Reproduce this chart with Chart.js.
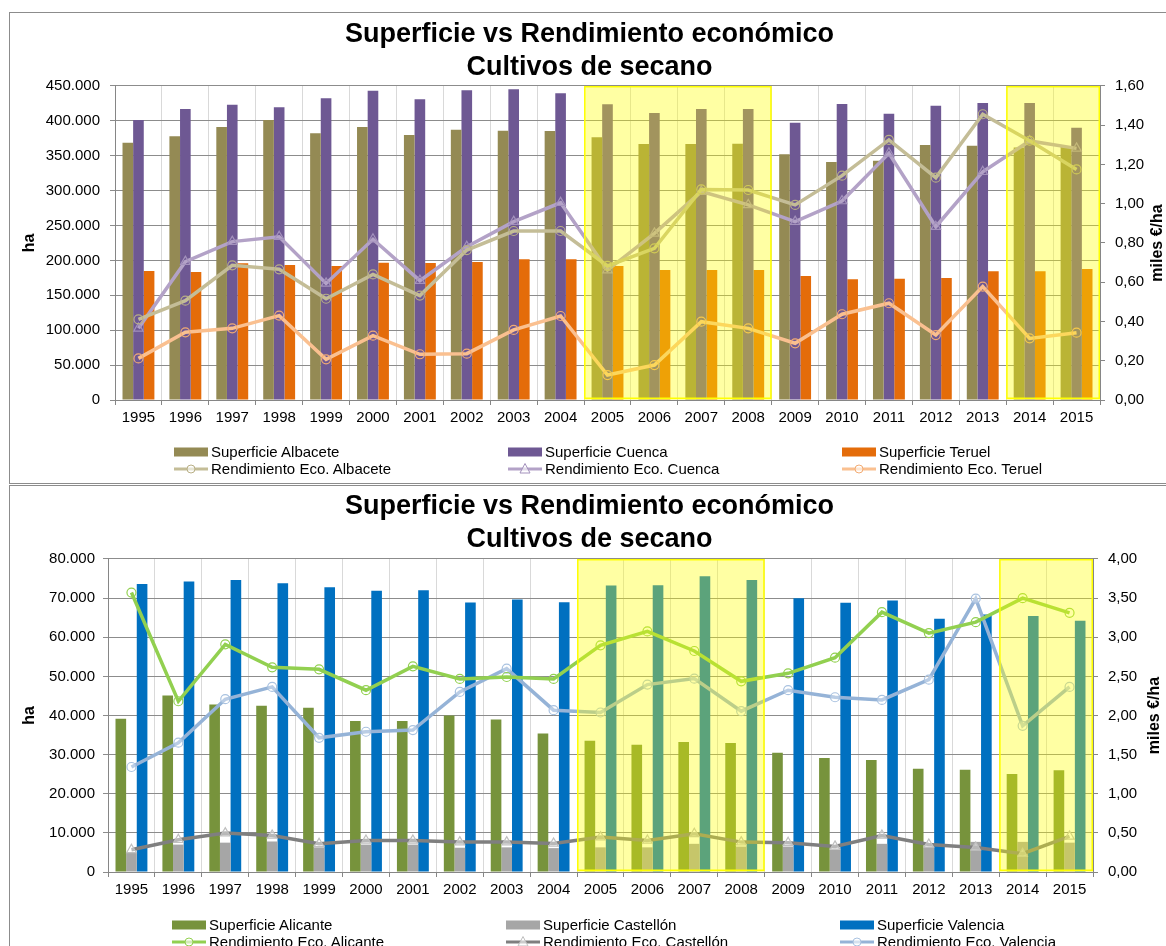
<!DOCTYPE html>
<html lang="es">
<head>
<meta charset="utf-8">
<title>Superficie vs Rendimiento económico</title>
<script src="https://cdn.jsdelivr.net/npm/chart.js@4.4.1/dist/chart.umd.min.js"></script>
<style>
  html, body { margin: 0; padding: 0; background: #fff; overflow: hidden; }
  body { width: 1166px; height: 946px; position: relative; font-family: 'Liberation Sans', Arial, sans-serif; }
  .marco { position: absolute; left: 9px; width: 1200px; border: 1px solid #8c8c8c; box-sizing: border-box; }
  canvas { position: absolute; left: 9px; }
  .leyenda { position: absolute; display: grid; grid-template-columns: 334px 334px 334px; font-size: 15px; line-height: 17px; color: #000; }
  .item { display: flex; align-items: center; white-space: nowrap; }
  .item svg { margin-right: 3px; flex: none; }
</style>
</head>
<body>
<div class="marco" style="top:12px;height:472px"></div>
<canvas id="graf1" width="1161" height="471" style="top:12px"></canvas>
<div class="leyenda" id="ley1" style="left:174px;top:443px"></div>

<div class="marco" style="top:485px;height:500px"></div>
<canvas id="graf2" width="1161" height="461" style="top:485px"></canvas>
<div class="leyenda" id="ley2" style="left:172px;top:916px"></div>

<script>
// Datos
const anios = ['1995', '1996', '1997', '1998', '1999', '2000', '2001', '2002', '2003', '2004', '2005',
  '2006', '2007', '2008', '2009', '2010', '2011', '2012', '2013', '2014', '2015'];

const titulo = ['Superficie vs Rendimiento económico', 'Cultivos de secano'];

// Albacete, Cuenca, Teruel (ha y miles €/ha)
const supAlbacete = [368800, 377900, 391200, 401300, 382200, 391200, 379800, 387400, 386000, 385500, 376400,
  366900, 366900, 367300, 352100, 341100, 343000, 365400, 364500, 362000, 364000];
const supCuenca = [401300, 417000, 423200, 419400, 432300, 443300, 430900, 443800, 445200, 439500, 423700,
  411300, 417000, 417000, 397400, 424200, 410300, 421800, 425600, 425600, 390300];
const supTeruel = [184900, 183400, 195900, 193500, 192000, 196800, 196300, 197800, 201600, 201600, 192000,
  186300, 186300, 186300, 177700, 172900, 173900, 174800, 184400, 184400, 187700];
const rendAlbacete = [0.411, 0.506, 0.686, 0.666, 0.516, 0.640, 0.532, 0.764, 0.861, 0.861, 0.683,
  0.773, 1.073, 1.070, 0.994, 1.143, 1.325, 1.133, 1.456, 1.321, 1.175];
const rendCuenca = [0.365, 0.705, 0.807, 0.832, 0.594, 0.819, 0.608, 0.781, 0.909, 1.005, 0.662,
  0.849, 1.062, 0.994, 0.909, 1.014, 1.257, 0.883, 1.163, 1.320, 1.282];
const rendTeruel = [0.212, 0.345, 0.365, 0.430, 0.207, 0.328, 0.233, 0.236, 0.357, 0.428, 0.127,
  0.178, 0.399, 0.365, 0.289, 0.437, 0.493, 0.331, 0.578, 0.314, 0.343];

// Alicante, Castellón, Valencia
const supAlicante = [39150, 45100, 42800, 42470, 41950, 38560, 38560, 40000, 38980, 35420, 33550,
  32530, 33210, 32950, 30490, 29130, 28620, 26410, 26160, 25050, 25990];
const supCastellon = [5000, 7000, 7500, 7800, 6300, 7000, 7000, 6200, 6300, 6100, 6300,
  6300, 7200, 6500, 6500, 5700, 7200, 6400, 7700, 7700, 7500];
const supValencia = [73630, 74230, 74650, 73800, 72780, 71850, 72020, 68880, 69640, 68960, 73210,
  73300, 75590, 74650, 69980, 68790, 69390, 64720, 65820, 65400, 64210];
const rendAlicante = [3.571, 2.182, 2.909, 2.616, 2.590, 2.323, 2.628, 2.467, 2.492, 2.467, 2.896,
  3.074, 2.824, 2.437, 2.539, 2.739, 3.320, 3.053, 3.193, 3.499, 3.312];
const rendCastellon = [0.284, 0.412, 0.497, 0.467, 0.361, 0.403, 0.403, 0.382, 0.382, 0.365, 0.446,
  0.403, 0.488, 0.382, 0.374, 0.327, 0.467, 0.352, 0.314, 0.234, 0.454];
const rendValencia = [1.342, 1.652, 2.208, 2.365, 1.715, 1.792, 1.813, 2.301, 2.599, 2.068, 2.038,
  2.395, 2.471, 2.055, 2.323, 2.233, 2.199, 2.458, 3.494, 1.868, 2.365];

// Escalas: [max, paso]
const ejeHaNorte = [450000, 50000];
const ejeEurNorte = [1.6, 0.2];
const ejeHaEste = [80000, 10000];
const ejeEurEste = [4, 0.5];

// Periodos resaltados en amarillo
const zonasDestacadas = [['2005', '2008'], ['2014', '2015']];

Chart.defaults.font.family = "'Liberation Sans', Arial, sans-serif";
Chart.defaults.font.size = 15;
Chart.defaults.color = '#000';

function formatoMiles(v) {
  return Math.round(v).toString().replace(/\B(?=(\d{3})+(?!\d))/g, '.');
}
function formatoDecimal(v) {
  return Number(v).toFixed(2).replace('.', ',');
}

function serieBarra(label, data, color) {
  return { type: 'bar', label: label, data: data, backgroundColor: color, yAxisID: 'y', order: 2,
    categoryPercentage: 0.68, barPercentage: 1.0 };
}
function serieLinea(label, data, color, marcador, borde, relleno) {
  return { type: 'line', label: label, data: data, borderColor: color, backgroundColor: color,
    borderWidth: 3.5, yAxisID: 'y1', order: 1, tension: 0,
    pointStyle: marcador, pointRadius: marcador === 'triangle' ? 5.5 : 4.5,
    pointBorderColor: borde, pointBackgroundColor: relleno, pointBorderWidth: 1.2 };
}

// Rectángulos amarillos semitransparentes sobre los periodos destacados
const zonasPlugin = {
  id: 'zonas',
  afterDatasetsDraw(chart, args, opts) {
    const { ctx, chartArea } = chart;
    const x = chart.scales.x;
    const paso = x.getPixelForValue(1) - x.getPixelForValue(0);
    ctx.save();
    opts.rangos.forEach(r => {
      const x0 = x.getPixelForValue(anios.indexOf(r[0])) - paso / 2;
      const x1 = x.getPixelForValue(anios.indexOf(r[1])) + paso / 2;
      ctx.fillStyle = 'rgba(255,255,0,0.36)';
      ctx.fillRect(x0, chartArea.top, x1 - x0, chartArea.bottom - chartArea.top);
      ctx.strokeStyle = '#FFFF00';
      ctx.lineWidth = 1.5;
      ctx.strokeRect(x0 + 0.75, chartArea.top + 0.75, x1 - x0 - 1.5, chartArea.bottom - chartArea.top - 2.5);
    });
    ctx.restore();
  }
};

// Título del eje derecho girado como en Excel (de abajo hacia arriba)
const tituloDerechoPlugin = {
  id: 'tituloDerecho',
  afterDraw(chart, args, opts) {
    const { ctx, chartArea } = chart;
    ctx.save();
    ctx.translate(opts.x, (chartArea.top + chartArea.bottom) / 2);
    ctx.rotate(-Math.PI / 2);
    ctx.font = "bold 16px 'Liberation Sans', Arial, sans-serif";
    ctx.fillStyle = '#000';
    ctx.textAlign = 'center';
    ctx.textBaseline = 'middle';
    ctx.fillText(opts.texto, 0, 0);
    ctx.restore();
  }
};

function crearGrafica(id, series, ejeIzq, ejeDer, m) {
  return new Chart(document.getElementById(id), {
    type: 'bar',
    data: { labels: anios, datasets: series },
    options: {
      responsive: false,
      animation: false,
      layout: { padding: 0 },
      plugins: {
        legend: { display: false },
        tooltip: { enabled: false },
        title: {
          display: true, text: titulo, color: '#000',
          font: { size: 27, weight: 'bold', lineHeight: 1.22 },
          padding: m.tituloPad
        },
        zonas: { rangos: zonasDestacadas },
        tituloDerecho: { texto: 'miles €/ha', x: m.tituloDerX }
      },
      scales: {
        x: {
          grid: { color: '#D9D9D9', tickColor: '#868686', tickLength: 5, offset: true },
          border: { color: '#868686' },
          ticks: { autoSkip: false, maxRotation: 0, padding: 4 },
          afterFit: s => { s.height = m.altoX; }
        },
        y: {
          position: 'left', min: 0, max: ejeIzq[0],
          ticks: { stepSize: ejeIzq[1], padding: m.padIzq, callback: v => formatoMiles(v) },
          grid: { color: '#8C8C8C', tickLength: 5 },
          border: { color: '#868686' },
          title: { display: true, text: 'ha', font: { size: 16, weight: 'bold' }, padding: { top: 11.4, bottom: 0 } },
          afterFit: s => { s.width = m.anchoIzq; }
        },
        y1: {
          position: 'right', min: 0, max: ejeDer[0],
          ticks: { stepSize: ejeDer[1], padding: 10, callback: v => formatoDecimal(v) },
          grid: { drawOnChartArea: false, tickLength: 5, tickColor: '#868686' },
          border: { color: '#868686' },
          afterFit: s => { s.width = m.anchoDer; }
        }
      }
    },
    plugins: [zonasPlugin, tituloDerechoPlugin]
  });
}

function muestra(ds) {
  const c = ds.type === 'bar' ? ds.backgroundColor : ds.borderColor;
  if (ds.type === 'bar') {
    return '<svg width="34" height="12"><rect x="0" y="1.5" width="34" height="9" fill="' + c + '"/></svg>';
  }
  let marca;
  if (ds.pointStyle === 'triangle') {
    marca = '<polygon points="17,0.5 22,10 12,10" fill="#fff" fill-opacity="0.6" stroke="' + ds.pointBorderColor + '" stroke-width="1"/>';
  } else {
    marca = '<circle cx="17" cy="6" r="4" fill="#fff" fill-opacity="0.6" stroke="' + ds.pointBorderColor + '" stroke-width="1"/>';
  }
  return '<svg width="34" height="12"><line x1="0" y1="6" x2="34" y2="6" stroke="' + c + '" stroke-width="3"/>' + marca + '</svg>';
}

function crearLeyenda(chart, id) {
  document.getElementById(id).innerHTML = chart.data.datasets
    .map(ds => '<div class="item">' + muestra(ds) + '<span>' + ds.label + '</span></div>')
    .join('');
}

const g1 = crearGrafica('graf1', [
  serieBarra('Superficie Albacete', supAlbacete, '#948A54'),
  serieBarra('Superficie Cuenca', supCuenca, '#6E5893'),
  serieBarra('Superficie Teruel', supTeruel, '#E46C0A'),
  serieLinea('Rendimiento Eco. Albacete', rendAlbacete, '#C4BD97', 'circle', '#B8AF85', 'rgba(255,255,255,0)'),
  serieLinea('Rendimiento Eco. Cuenca', rendCuenca, '#B3A2C7', 'triangle', '#A391BC', 'rgba(255,255,255,0)'),
  serieLinea('Rendimiento Eco. Teruel', rendTeruel, '#FAC090', 'circle', '#F2AB73', 'rgba(255,255,255,0)')
], ejeHaNorte, ejeEurNorte, {
  tituloPad: { top: 6.5, bottom: 1.6 }, altoX: 83, anchoIzq: 106, anchoDer: 70, padIzq: 10, tituloDerX: 1149
});
crearLeyenda(g1, 'ley1');

const g2 = crearGrafica('graf2', [
  serieBarra('Superficie Alicante', supAlicante, '#77933C'),
  serieBarra('Superficie Castellón', supCastellon, '#A6A6A6'),
  serieBarra('Superficie Valencia', supValencia, '#0070C0'),
  serieLinea('Rendimiento Eco. Alicante', rendAlicante, '#92D050', 'circle', '#92D050', 'rgba(255,255,255,0)'),
  serieLinea('Rendimiento Eco. Castellón', rendCastellon, '#7F7F7F', 'triangle', '#BFBFBF', 'rgba(255,255,255,0.45)'),
  serieLinea('Rendimiento Eco. Valencia', rendValencia, '#95B3D7', 'circle', '#A9C2E0', 'rgba(255,255,255,0.35)')
], ejeHaEste, ejeEurEste, {
  tituloPad: { top: 5.5, bottom: 2.6 }, altoX: 74, anchoIzq: 99, anchoDer: 77, padIzq: 8, tituloDerX: 1146
});
crearLeyenda(g2, 'ley2');
</script>
</body>
</html>
